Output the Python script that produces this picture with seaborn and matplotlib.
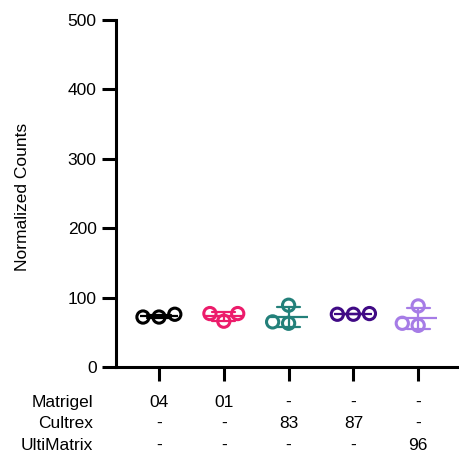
"""
Normalized counts per basement-membrane lot: points, mean and SD.
"""

import numpy as np
import pandas as pd
import matplotlib
matplotlib.use("Agg")
import matplotlib.pyplot as plt
import matplotlib.transforms as mtransforms
import seaborn as sns

# Groups (one per lot) and their replicate values
GROUPS = ["Matrigel 04", "Matrigel 01", "Cultrex 83", "Cultrex 87", "UltiMatrix 96"]
MATRIGEL_04 = [72, 76, 72]
MATRIGEL_01 = [66, 77, 77]
CULTREX_83 = [89, 63, 65]
CULTREX_87 = [76, 77, 76]
ULTIMATRIX_96 = [88, 60, 63]
COLORS = ["#000000", "#EC1C6B", "#23807A", "#400A85", "#A67CE6"]

# Table rows under the x axis
ROW_LABELS = ["Matrigel", "Cultrex", "UltiMatrix"]
ROW_MATRIGEL = ["04", "01", "-", "-", "-"]
ROW_CULTREX = ["-", "-", "83", "87", "-"]
ROW_ULTIMATRIX = ["-", "-", "-", "-", "96"]

Y_TICKS = [0, 100, 200, 300, 400, 500]

values = [MATRIGEL_04, MATRIGEL_01, CULTREX_83, CULTREX_87, ULTIMATRIX_96]
df = pd.DataFrame({
    "group": np.repeat(GROUPS, [len(v) for v in values]),
    "counts": np.concatenate(values),
})

sns.set_style("ticks")
plt.rcParams["font.family"] = ["Liberation Sans", "DejaVu Sans"]
plt.rcParams["font.size"] = 12.5
plt.rcParams["text.color"] = "black"
plt.rcParams["axes.labelcolor"] = "black"
plt.rcParams["axes.edgecolor"] = "black"
plt.rcParams["xtick.color"] = "black"
plt.rcParams["ytick.color"] = "black"

fig = plt.figure(figsize=(4.59, 4.61), dpi=100)
ax = fig.add_axes([116 / 459, 94 / 461, 343 / 459, 347 / 461])

palette = dict(zip(GROUPS, COLORS))
sns.swarmplot(data=df, x="group", y="counts", hue="group", palette=palette,
              order=GROUPS, size=8.8, legend=False, ax=ax)
# hollow circles
for coll in ax.collections:
    fc = coll.get_facecolors()
    coll.set_edgecolors(fc)
    coll.set_facecolors("none")
    coll.set_linewidths(2.2)
    coll.set_zorder(3)

sns.pointplot(data=df, x="group", y="counts", hue="group", palette=palette,
              order=GROUPS, errorbar="sd", capsize=0.36, marker="_",
              markersize=28, markeredgewidth=1.6, linestyle="none",
              err_kws={"linewidth": 1.6}, legend=False, ax=ax)

ax.set_xlim(-0.664, 4.63)
ax.set_ylim(0, 500)
ax.set_yticks(Y_TICKS)
ax.set_xlabel("")
ax.set_xticklabels([])
ax.set_ylabel("Normalized Counts", fontsize=12.5)
ax.yaxis.set_label_coords(-0.25, 0.49)
sns.despine(ax=ax)
for side in ["left", "bottom"]:
    ax.spines[side].set_linewidth(2.2)
    ax.spines[side].set_color("black")
ax.tick_params(axis="both", width=2.2, length=10, labelsize=12.5, pad=4,
               color="black", labelcolor="black")

trans = mtransforms.blended_transform_factory(ax.transData, ax.transAxes)
rows = [ROW_MATRIGEL, ROW_CULTREX, ROW_ULTIMATRIX]
row_y = [-0.101, -0.163, -0.225]
for label, row, y in zip(ROW_LABELS, rows, row_y):
    ax.text(-0.067, y, label, transform=ax.transAxes, ha="right", va="center",
            fontsize=12.5, color="black")
    for i, val in enumerate(row):
        ax.text(i, y, val, transform=trans, ha="center", va="center",
                fontsize=12.5, color="black")

fig.savefig("out.png", dpi=100)
plt.close(fig)
